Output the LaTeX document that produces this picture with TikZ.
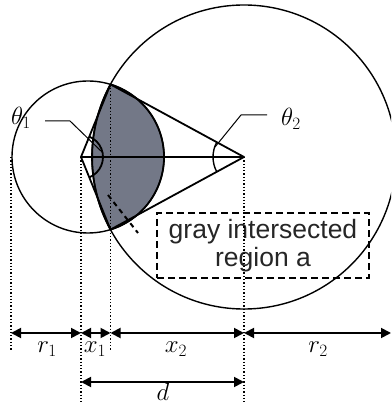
\documentclass[tikz,border=0pt]{standalone}
\usepackage{fontspec}
\newfontfamily\notefont{Liberation Sans}
\usetikzlibrary{arrows.meta}
\definecolor{lensgray}{RGB}{115,120,135}
\begin{document}
\begin{tikzpicture}[
  x=1pt,y=1pt,
  >={Triangle[length=10pt,width=10pt]},
  ring/.style={draw,line width=1.4pt},
  edge/.style={line width=1.8pt,line join=round},
  guide/.style={dotted,line width=1.3pt},
  dim/.style={<->,line width=1.8pt},
  lbl/.style={font=\fontsize{24}{28}\selectfont,anchor=base,inner sep=0pt},
  lead/.style={line width=1pt}
]
\useasboundingbox (0,0) rectangle (391,404);
\clip (0,0) rectangle (391,404);
\coordinate (c1) at (88,247);
\coordinate (B) at (244,247);
\coordinate (A) at (81,247);
\coordinate (P) at (110.5,319.6);
\coordinate (Q) at (110.5,174.4);
\coordinate (L) at (11,247);
\coordinate (R) at (391,71);
\coordinate (dimrow) at (0,71);
\coordinate (drow) at (0,22);
\coordinate (floor) at (0,0);
\coordinate (stop) at (0,54);

\begin{scope}
  \clip (c1) circle[radius=76];
  \fill[lensgray] (B) circle[radius=152];
\end{scope}
\draw[ring] (c1) circle[radius=76];
\draw[ring] (B) circle[radius=152];
\draw[edge] (P) arc[start angle=72.8,end angle=-72.8,radius=76]
  arc[start angle=208.5,end angle=151.5,radius=152];

\draw[edge] (P) -- (A) -- (Q) -- (B) -- cycle;
\draw[edge] (A) -- (B);
\draw[edge] ([shift={(-67.9:22)}]A) arc[start angle=-67.9,end angle=67.9,radius=22];
\draw[ring] ([shift={(151.5:31)}]B) arc[start angle=151.5,end angle=208.5,radius=31];

\node[lbl] (t1) at (21,279) {$\theta_1$};
\coordinate (h1) at (45,283);
\coordinate (k1) at (70,283);
\coordinate (m1) at (102,252);
\draw[lead] (h1) -- (k1) -- (m1);
\node[lbl] (t2) at (291,278) {$\theta_2$};
\coordinate (h2) at (267,289);
\coordinate (k2) at (241,289);
\coordinate (m2) at (215,257);
\draw[lead] (h2) -- (k2) -- (m2);

\node[draw,dashed,line width=1.4pt,dash pattern=on 7pt off 4pt,
  minimum width=212pt,minimum height=65pt,inner sep=0pt,align=center,
  text=black!85,font=\notefont\fontsize{26.5}{28}\selectfont] (note) at (263,158.5)
  {gray intersected\\region a};
\coordinate (g1) at (108,209);
\coordinate (g2) at (138,171);
\draw[line width=2pt,dash pattern=on 5pt off 4pt] (g1) -- (g2);

\draw[guide] (L) -- (L |- stop);
\draw[guide] (A) -- (A |- floor);
\draw[guide] (P) -- (P |- stop);
\draw[guide] (B) -- (B |- floor);

\draw[dim] (L |- dimrow) -- (A |- dimrow);
\draw[dim] (A |- dimrow) -- (P |- dimrow);
\draw[dim] (P |- dimrow) -- (B |- dimrow);
\draw[dim] (B |- dimrow) -- (R);
\draw[dim] (A |- drow) -- (B |- drow);

\node[lbl] (r1) at (47,51) {$r_1$};
\node[lbl] (x1) at (95,51) {$x_1$};
\node[lbl] (x2) at (176,51) {$x_2$};
\node[lbl] (r2) at (318,51) {$r_2$};
\node[lbl] (dd) at (163,3) {$d$};
\end{tikzpicture}
\end{document}
